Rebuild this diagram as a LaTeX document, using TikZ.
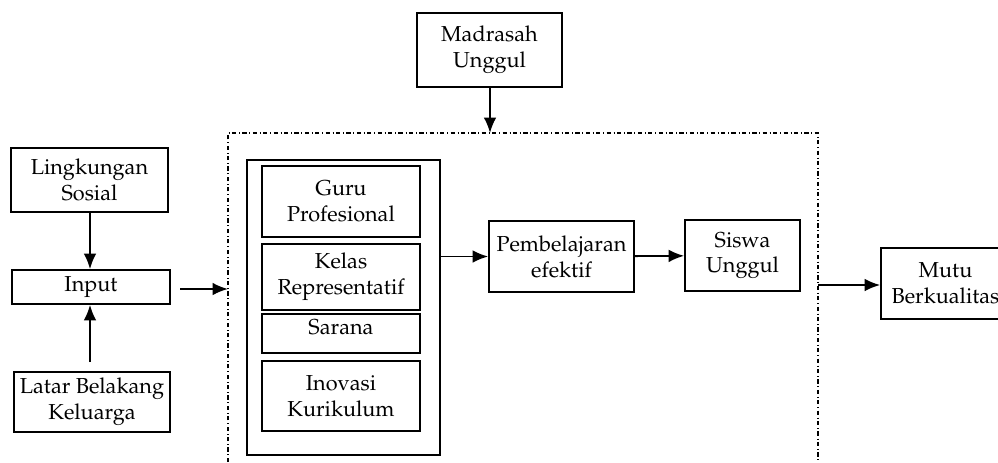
\documentclass[tikz,border=0pt]{standalone}
\usepackage[T1]{fontenc}
\usepackage{mathpazo}
\usetikzlibrary{arrows.meta}
\begin{document}
\begin{tikzpicture}[x=0.025cm, y=-0.025cm]
	\tikzset{boite/.style={draw=black, line width=1.2pt, align=center, inner sep=0pt, font=\fontsize{15.4}{18.4}\selectfont},
		fleche/.style={>={Latex[length=11pt,width=9pt]}, ->, line width=1.3pt},
		cadre/.style={dash dot, line width=0.9pt}};
	\useasboundingbox (0,0) rectangle (998,462);

	\node[boite, minimum width=3.625cm, minimum height=1.85cm] (mad) at (489.5,  50) {Madrasah\\Unggul};

	\node[boite, minimum width=3.925cm, minimum height=1.6cm ] (ling) at ( 89.5, 180) {Lingkungan\\Sosial};
	\node[boite, minimum width=3.95cm,  minimum height=0.85cm] (inp)  at ( 91,   287) {Input};
	\node[boite, minimum width=3.9cm,   minimum height=1.5cm ] (lat)  at ( 92,   402) {Latar Belakang\\Keluarga};

	\node[boite, minimum width=4.825cm, minimum height=7.375cm] (bloc) at (343.5, 307.5) {};
	\node[boite, minimum width=3.95cm, minimum height=1.775cm] (guru)   at (341, 201.5) {Guru\\Profesional};
	\node[boite, minimum width=3.95cm, minimum height=1.65cm ] (kelas)  at (341, 277  ) {Kelas\\Representatif};
	\node[boite, minimum width=3.95cm, minimum height=0.975cm] (sarana) at (341, 333.5) {};
	\node[boite, draw=none] (tsarana) at (341, 327) {Sarana};
	\node[boite, minimum width=3.95cm, minimum height=1.75cm ] (inov)   at (341, 396  ) {Inovasi\\Kurikulum};

	\node[boite, minimum width=3.625cm, minimum height=1.775cm] (pemb)  at (561.5, 256.5) {Pembelajaran\\efektif};
	\node[boite, minimum width=2.875cm, minimum height=1.775cm] (siswa) at (742.5, 255.5) {Siswa\\Unggul};
	\node[boite, minimum width=3.225cm, minimum height=1.775cm] (mutu)  at (945.5, 283.5) {Mutu\\Berkualitas};

	\coordinate (hg) at (228, 133);
	\coordinate (hd) at (818, 133);
	\coordinate (bg) at (228, 462);
	\coordinate (bd) at (818, 462);
	\draw[cadre] (bg) -- (hg) -- (hd) -- (bd);

	\coordinate (haut)   at (490, 133);
	\coordinate (gauche) at (228, 289);
	\coordinate (droite) at (818, 285);
	\coordinate (inpd)   at (180, 289);
	\coordinate (latn)   at ( 90, 362);

	\draw[fleche] (mad.south -| haut) -- (haut);
	\draw[fleche] (ling.south -| 90,0) -- (inp.north -| 90,0);
	\draw[fleche] (latn) -- (inp.south -| latn);
	\draw[fleche] (inpd) -- (gauche);
	\draw[fleche] (bloc.east |- pemb) -- (pemb);
	\draw[fleche] (pemb) -- (siswa);
	\draw[fleche] (droite) -- (droite -| mutu.west);

\end{tikzpicture}
\end{document}
